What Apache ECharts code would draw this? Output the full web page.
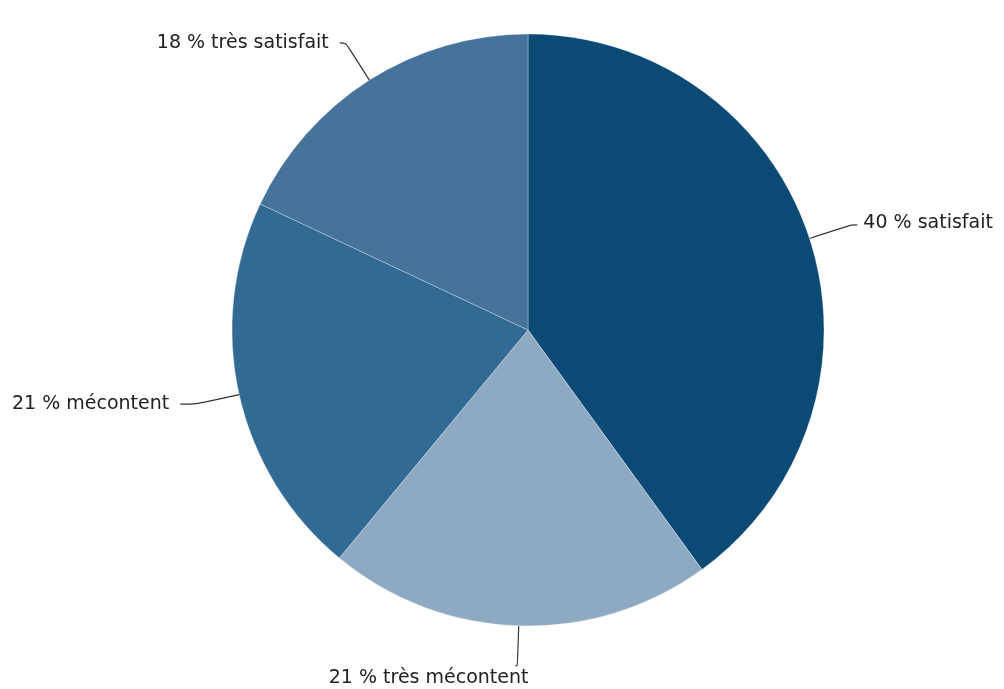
<!DOCTYPE html>
<html>
<head>
<meta charset="utf-8">
<script src="https://cdn.jsdelivr.net/npm/echarts@6/dist/echarts.min.js"></script>
<style>
html,body{margin:0;padding:0;background:#fff;}
#chart{width:1004px;height:689px;}
</style>
</head>
<body>
<div id="chart"></div>
<script>
const categories = ['satisfait', 'très mécontent', 'mécontent', 'très satisfait'];
const values = [40, 21, 21, 18];
const colors = ['#0b4a74', '#8eaac2', '#336a94', '#45739a'];

const chart = echarts.init(document.getElementById('chart'));
chart.setOption({
  animation: false,
  series: [{
    type: 'pie',
    center: [528, 330],
    radius: [0, 296],
    startAngle: 90,
    clockwise: true,
    data: categories.map((c, i) => {
      const d = { name: c, value: values[i], itemStyle: { color: colors[i] } };
      if (c === 'très mécontent') {
        d.labelLine = { length: 40, length2: 2 };
      }
      if (c === 'mécontent') {
        d.labelLine = { length: 44, length2: 16 };
      }
      return d;
    }),
    itemStyle: { borderColor: 'rgba(255,255,255,0.5)', borderWidth: 0.6 },
    label: {
      show: true,
      formatter: p => p.value + ' % ' + p.name,
      fontFamily: 'DejaVu Sans',
      fontSize: 19,
      color: '#222',
      padding: [0, 6],
      overflow: 'none'
    },
    labelLine: {
      show: true,
      length: 44,
      length2: 6,
      smooth: 0.3,
      lineStyle: { color: '#333', width: 1.2 }
    },
    labelLayout: p => {
      if (p.dataIndex === 1) return { dy: 12, dx: 24 };
      if (p.dataIndex === 0) return { dx: -5, dy: -2 };
      return {};
    },
    emphasis: { disabled: true }
  }]
});
</script>
</body>
</html>
